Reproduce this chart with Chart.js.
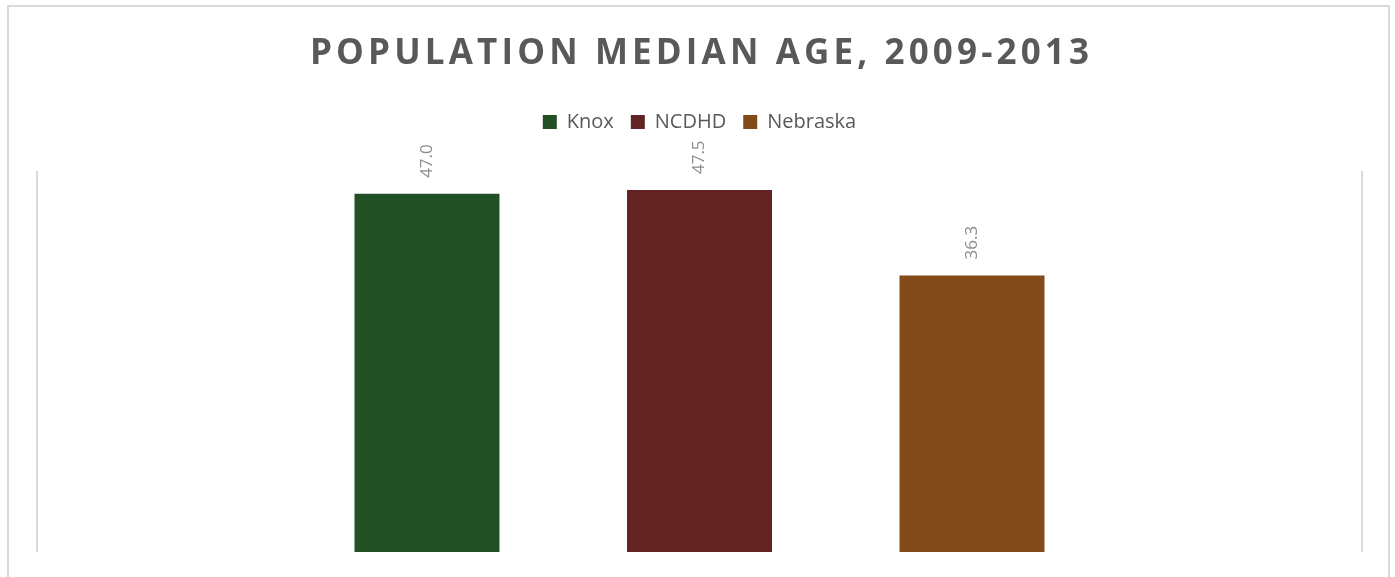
<!DOCTYPE html>
<html>
<head>
<meta charset="utf-8">
<script src="https://cdn.jsdelivr.net/npm/chart.js@4.4.1/dist/chart.umd.min.js"></script>
<style>
  html, body { margin: 0; padding: 0; background: #fff; overflow: hidden; }
  #wrap { position: relative; width: 1395px; height: 577px; }
  #frame { position: absolute; left: 7px; top: 5px; width: 1383px; height: 600px;
           border: 2px solid #d9d9d9; box-sizing: border-box; }
  canvas { position: absolute; left: 0; top: 0; }
</style>
</head>
<body>
<div id="wrap">
  <div id="frame"></div>
  <canvas id="ageChart" width="1395" height="577"></canvas>
</div>
<script>
const titleText  = 'POPULATION MEDIAN AGE, 2009-2013';
const categories = ['Median age'];
const seriesNames  = ['Knox', 'NCDHD', 'Nebraska'];
const seriesValues = [[47.0], [47.5], [36.3]];
const seriesColors = ['#225025', '#622422', '#824919'];
const yMin = 0;
const yMax = 50;

const titlePlugin = {
  id: 'spacedTitle',
  afterDraw(chart) {
    const c = chart.ctx;
    c.save();
    c.font = 'bold 35px "Open Sans", sans-serif';
    c.fillStyle = '#595959';
    c.textAlign = 'center';
    c.textBaseline = 'middle';
    const plain = c.measureText(titleText).width;
    const sp = Math.max(0, (779 - plain) / (titleText.length - 1));
    c.letterSpacing = sp + 'px';
    c.fillText(titleText, 699.5 + sp / 2, 54);
    c.restore();
  }
};

// extra room under the legend
const legendGap = {
  id: 'legendGap',
  beforeInit(chart) {
    const fit = chart.legend.fit;
    chart.legend.fit = function () {
      fit.bind(this)();
      this.height += 29;
    };
  }
};

const labelPlugin = {
  id: 'vertLabels',
  afterDatasetsDraw(chart) {
    const c = chart.ctx;
    c.save();
    c.font = '17px "Open Sans", sans-serif';
    c.fillStyle = '#8c8c8c';
    c.textAlign = 'left';
    c.textBaseline = 'middle';
    chart.data.datasets.forEach((ds, i) => {
      chart.getDatasetMeta(i).data.forEach((bar, idx) => {
        c.save();
        c.translate(bar.x, bar.y - 16);
        c.rotate(-Math.PI / 2);
        c.fillText(ds.data[idx].toFixed(1), 0, 0);
        c.restore();
      });
    });
    c.restore();
  }
};

new Chart(document.getElementById('ageChart'), {
  type: 'bar',
  data: {
    labels: categories,
    datasets: seriesNames.map((n, i) => ({
      label: n,
      data: seriesValues[i],
      backgroundColor: seriesColors[i],
      categoryPercentage: 0.617,
      barPercentage: 0.532
    }))
  },
  options: {
    responsive: false,
    animation: false,
    layout: { padding: { top: 95, left: 37, right: 33, bottom: 25 } },
    plugins: {
      legend: {
        position: 'top',
        labels: {
          boxWidth: 14,
          boxHeight: 14,
          padding: 17,
          color: '#595959',
          font: { family: '"Open Sans", sans-serif', size: 20 }
        }
      },
      tooltip: { enabled: false }
    },
    scales: {
      x: {
        ticks: { display: false },
        border: { display: false },
        grid: { offset: true, drawTicks: false, color: '#d9d9d9', lineWidth: 2 }
      },
      y: { display: false, min: yMin, max: yMax }
    }
  },
  plugins: [titlePlugin, labelPlugin, legendGap]
});
</script>
</body>
</html>
